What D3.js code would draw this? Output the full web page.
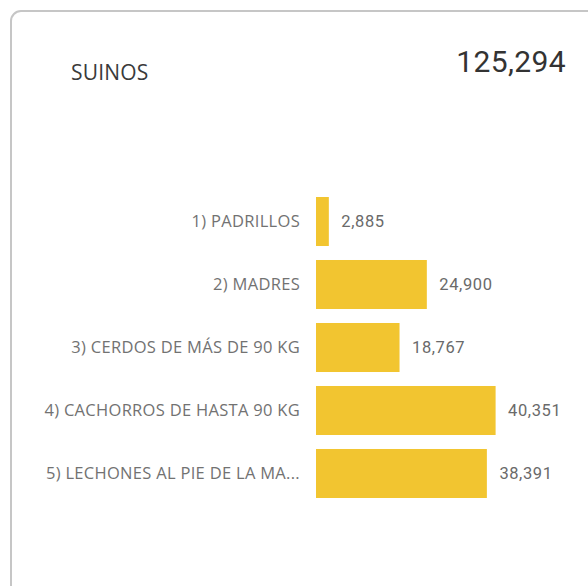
<!DOCTYPE html>
<html>
<head>
<meta charset="utf-8">
<script src="https://cdn.jsdelivr.net/npm/d3@7"></script>
<style>
  html, body { margin: 0; padding: 0; background: #fff; }
  svg { display: block; }
</style>
</head>
<body>
<svg id="chart" width="588" height="586"></svg>
<script>
// Swine stock by category
const title = "SUINOS";
const categories = [
  "1) PADRILLOS",
  "2) MADRES",
  "3) CERDOS DE MÁS DE 90 KG",
  "4) CACHORROS DE HASTA 90 KG",
  "5) LECHONES AL PIE DE LA MA..."
];
const values = [2885, 24900, 18767, 40351, 38391];
const total = 125294;

const fmt = d3.format(",");
const svg = d3.select("#chart");

// Card frame
svg.append("rect")
  .attr("x", 11).attr("y", 11)
  .attr("width", 640).attr("height", 590)
  .attr("rx", 10).attr("ry", 10)
  .attr("fill", "#fff")
  .attr("stroke", "#c6c6c6")
  .attr("stroke-width", 2);

// Header
svg.append("text")
  .attr("x", 71).attr("y", 80)
  .attr("font-family", "'Open Sans', sans-serif")
  .attr("font-size", 21)
  .attr("fill", "#3a3a3a")
  .attr("letter-spacing", 0.2)
  .text(title);

svg.append("text")
  .attr("x", 566).attr("y", 72)
  .attr("text-anchor", "end")
  .attr("font-family", "Roboto, sans-serif")
  .attr("font-size", 30)
  .attr("fill", "#333")
  .attr("letter-spacing", 0.4)
  .text(fmt(total));

// Scales
const x = d3.scaleLinear()
  .domain([0, d3.max(values)])
  .range([316, 495.6]);

const y = d3.scaleBand()
  .domain(categories)
  .range([197, 498])
  .paddingInner(0.222)
  .paddingOuter(0);

const rows = categories.map((c, i) => ({ c, v: values[i] }));

// Bars
svg.append("g").selectAll("rect")
  .data(rows)
  .join("rect")
  .attr("x", x(0))
  .attr("y", d => y(d.c))
  .attr("width", d => x(d.v) - x(0))
  .attr("height", y.bandwidth())
  .attr("fill", "#F2C530");

// Category labels
svg.append("g").selectAll("text")
  .data(rows)
  .join("text")
  .attr("x", 300)
  .attr("y", d => y(d.c) + y.bandwidth() / 2)
  .attr("dy", "0.36em")
  .attr("text-anchor", "end")
  .attr("font-family", "'Open Sans', sans-serif")
  .attr("font-size", 16.5)
  .attr("fill", "#727272")
  .attr("letter-spacing", 0.3)
  .text(d => d.c);

// Value labels
svg.append("g").selectAll("text")
  .data(rows)
  .join("text")
  .attr("x", d => x(d.v) + 12.5)
  .attr("y", d => y(d.c) + y.bandwidth() / 2)
  .attr("dy", "0.36em")
  .attr("font-family", "Roboto, sans-serif")
  .attr("font-size", 16.5)
  .attr("fill", "#6a6a6a")
  .attr("letter-spacing", 0.6)
  .text(d => fmt(d.v));
</script>
</body>
</html>
